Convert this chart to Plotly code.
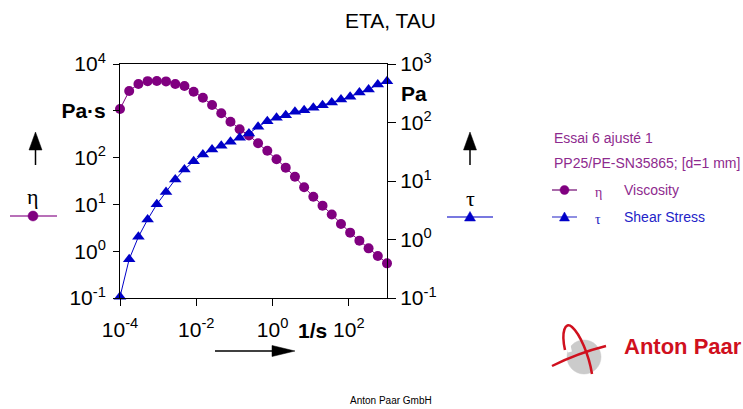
import plotly.graph_objects as go

# ---------------- data ----------------
shear_rate = [1.00e-4, 1.74e-4, 3.04e-4, 5.30e-4, 9.24e-4, 1.61e-3, 2.81e-3, 4.89e-3,
              8.53e-3, 1.49e-2, 2.59e-2, 4.52e-2, 7.88e-2, 0.137, 0.240, 0.417, 0.728,
              1.27, 2.21, 3.86, 6.72, 11.7, 20.4, 35.6, 62.1, 108, 189, 329, 574, 1000]
viscosity = [1090, 2650, 3740, 4300, 4350, 4250, 3740, 3390, 2560, 1905, 1330, 885,
             585, 403, 297, 202, 140, 92, 61, 39, 23.2, 14.6, 9.4, 6.1, 3.81, 2.49,
             1.68, 1.15, 0.79, 0.55]
shear_stress = [0.105, 0.46, 1.11, 2.2, 4.0, 6.5, 10.6, 15.7, 21.8, 28.4, 34.5, 40,
                46.8, 54.7, 64.9, 84.4, 105, 120, 133, 152, 162, 178, 198, 220, 247,
                275, 326, 366, 447, 508]

x_tickvals = [1e-4, 1e-2, 1, 100]
x_ticktext = ["10<sup>-4</sup>", "10<sup>-2</sup>", "10<sup>0</sup>", "10<sup>2</sup>"]
x_minor = [10 ** (-4 + 0.4 * k) for k in range(1, 18) if k % 5 != 0]
yl_tickvals = [0.1, 1, 10, 100, 1000, 10000]
yl_ticktext = ["10<sup>-1</sup>", "10<sup>0</sup>", "10<sup>1</sup>", "10<sup>2</sup>",
               "<b>Pa·s</b>", "10<sup>4</sup>"]
yl_minor = [0.5, 5, 50, 500, 5000]
yr_tickvals = [0.1, 1, 10, 100, 1000]
yr_ticktext = ["10<sup>-1</sup>", "10<sup>0</sup>", "10<sup>1</sup>", "10<sup>2</sup>",
               "10<sup>3</sup>"]
yr_minor = [0.5, 5, 50, 500]

# ---------------- geometry helpers ----------------
W, H = 743, 409
L, R, T, B = 120, 387, 64, 298
FONT = "Arial, Liberation Sans, sans-serif"
SERIF = "Times New Roman, Liberation Serif, serif"
PURPLE = "#800080"
BLUE = "#0000c8"
RED = "#d0101e"


def px(x):
    return (x - L) / (R - L)


def py(y):
    return (B - y) / (B - T)


def seg(x0, y0, x1, y1, color="black", width=1.5):
    return dict(type="line", xref="paper", yref="paper", x0=px(x0), y0=py(y0),
                x1=px(x1), y1=py(y1), line=dict(color=color, width=width))


def poly(points, fill):
    d = "M " + " L ".join(f"{px(a):.5f},{py(b):.5f}" for a, b in points) + " Z"
    return dict(type="path", xref="paper", yref="paper", path=d,
                fillcolor=fill, line=dict(color=fill, width=0.5))


def curve(cmds, color, width):
    parts = []
    for c in cmds:
        op, pts = c[0], c[1:]
        parts.append(op + " " + " ".join(f"{px(a):.5f},{py(b):.5f}" for a, b in pts))
    return dict(type="path", xref="paper", yref="paper", path=" ".join(parts),
                line=dict(color=color, width=width))


def circ(cx, cy, r, fill, line=None):
    return dict(type="circle", xref="paper", yref="paper", x0=px(cx - r), x1=px(cx + r),
                y0=py(cy + r), y1=py(cy - r), fillcolor=fill,
                line=dict(color=line or fill, width=0.5))


def text(x, y, s, size=14, color="black", xanchor="center", family=FONT):
    return dict(x=px(x), y=py(y), xref="paper", yref="paper", text=s, showarrow=False,
                xanchor=xanchor, yanchor="middle", font=dict(size=size, color=color, family=family))


# ---------------- figure ----------------
fig = go.Figure()
fig.add_trace(go.Scatter(x=shear_rate, y=viscosity, mode="lines+markers", name="η Viscosity",
                         line=dict(color=PURPLE, width=1),
                         marker=dict(symbol="circle", size=10, color=PURPLE),
                         cliponaxis=False, showlegend=False))
fig.add_trace(go.Scatter(x=shear_rate, y=shear_stress, mode="lines+markers", name="τ Shear Stress",
                         yaxis="y2", line=dict(color=BLUE, width=1),
                         marker=dict(symbol="triangle-up", size=11, color=BLUE),
                         cliponaxis=False, showlegend=False))

tickfont = dict(family=FONT, size=21, color="black")
common = dict(showgrid=False, zeroline=False, automargin=False)

fig.update_layout(
    width=W, height=H,
    margin=dict(l=L, r=W - R, t=T, b=H - B, pad=0),
    paper_bgcolor="white", plot_bgcolor="white",
    showlegend=False,
    xaxis=dict(type="log", range=[-4, 3], showline=True, linecolor="black", linewidth=1,
               mirror=True, ticks="outside", ticklen=7, tickcolor="black",
               ticklabelstandoff=6,
               tickvals=x_tickvals, ticktext=x_ticktext, tickfont=tickfont, **common),
    xaxis2=dict(type="log", range=[-4, 3], overlaying="x", anchor="y", side="bottom",
                ticks="inside", ticklen=7, tickcolor="black", tickvals=x_tickvals,
                showticklabels=False, showline=False,
                minor=dict(tickvals=x_minor, ticks="inside", ticklen=3, tickcolor="black"),
                **common),
    yaxis=dict(type="log", range=[-1, 4], showline=True, linecolor="black", linewidth=1,
               ticks="outside", ticklen=6, tickcolor="black", ticklabelstandoff=3,
               tickvals=yl_tickvals, ticktext=yl_ticktext, tickfont=tickfont, **common),
    yaxis3=dict(type="log", range=[-1, 4], overlaying="y", anchor="x", side="left",
                ticks="inside", ticklen=7, tickcolor="black", tickvals=yl_tickvals,
                showticklabels=False, showline=False,
                minor=dict(tickvals=yl_minor, ticks="inside", ticklen=4, tickcolor="black"),
                **common),
    yaxis2=dict(type="log", range=[-1, 3], overlaying="y", anchor="x", side="right",
                showline=True, linecolor="black", linewidth=1,
                ticks="outside", ticklen=8, tickcolor="black",
                tickvals=yr_tickvals, ticktext=yr_ticktext, tickfont=tickfont, **common),
    yaxis4=dict(type="log", range=[-1, 3], overlaying="y", anchor="x", side="right",
                ticks="inside", ticklen=8, tickcolor="black", tickvals=yr_tickvals,
                showticklabels=False, showline=False,
                minor=dict(tickvals=yr_minor, ticks="inside", ticklen=3, tickcolor="black"),
                **common),
)

shapes = [
    # axis arrows
    seg(35.5, 165, 35.5, 149), poly([(29, 150), (42, 150), (35.5, 132)], "black"),
    seg(470, 165, 470, 149), poly([(463.5, 150), (476.5, 150), (470, 132)], "black"),
    seg(215, 351, 274, 351), poly([(272, 345.5), (272, 356.5), (295, 351)], "black"),
    # side samples
    seg(10, 216, 57, 216, "#b870b8", 2), circ(33, 216, 5, PURPLE),
    seg(447, 217, 493, 217, "#7878e0", 2),
    poly([(464.5, 221), (475.5, 221), (470, 211.5)], BLUE),
    # legend icons
    seg(552, 190, 577, 190, "#8e3a8e", 1.5), circ(564.5, 190, 4.5, PURPLE),
    seg(552, 217, 577, 217, "#6a6ad8", 1.5),
    poly([(559.5, 221), (569.5, 221), (564.5, 212)], BLUE),
    # logo
    circ(584, 357, 17, "#cbcbcb", "#cbcbcb"),
    curve([("M", (570, 352)), ("C", (566, 336), (570, 328), (574, 333))],
          "white", 4),
    curve([("M", (565, 350)), ("C", (561, 332), (565, 321), (572, 327)),
           ("C", (580, 334), (589, 355), (592, 374))], RED, 2.5),
    curve([("M", (552, 366)), ("Q", (578, 353), (606, 346))], RED, 2.5),
]

annotations = [
    text(390.5, 20, "ETA, TAU", 21),
    text(312, 330, "<b>1/s</b>", 21),
    text(399, 93, "<b>Pa</b>", 21, xanchor="left"),
    text(33, 196, "η", 22, family=SERIF),
    text(470, 198, "τ", 22, family=SERIF),
    text(552, 138, "Essai 6 ajusté 1", 14, "#8e2a8e", "left"),
    text(552, 163, "PP25/PE-SN35865; [d=1 mm]", 14, "#8e2a8e", "left"),
    text(598, 192, "η", 14, "#8e2a8e", family=SERIF),
    text(622, 190, "Viscosity", 14, "#8e2a8e", "left"),
    text(598, 219, "τ", 14, "#1c1cc0", family=SERIF),
    text(622, 217, "Shear Stress", 14, "#2323c8", "left"),
    text(622, 346, "<b>Anton Paar</b>", 22, RED, "left"),
    text(390.5, 400, "Anton Paar GmbH", 10),
]

fig.update_layout(shapes=shapes, annotations=annotations)
fig.write_html("out.html")
